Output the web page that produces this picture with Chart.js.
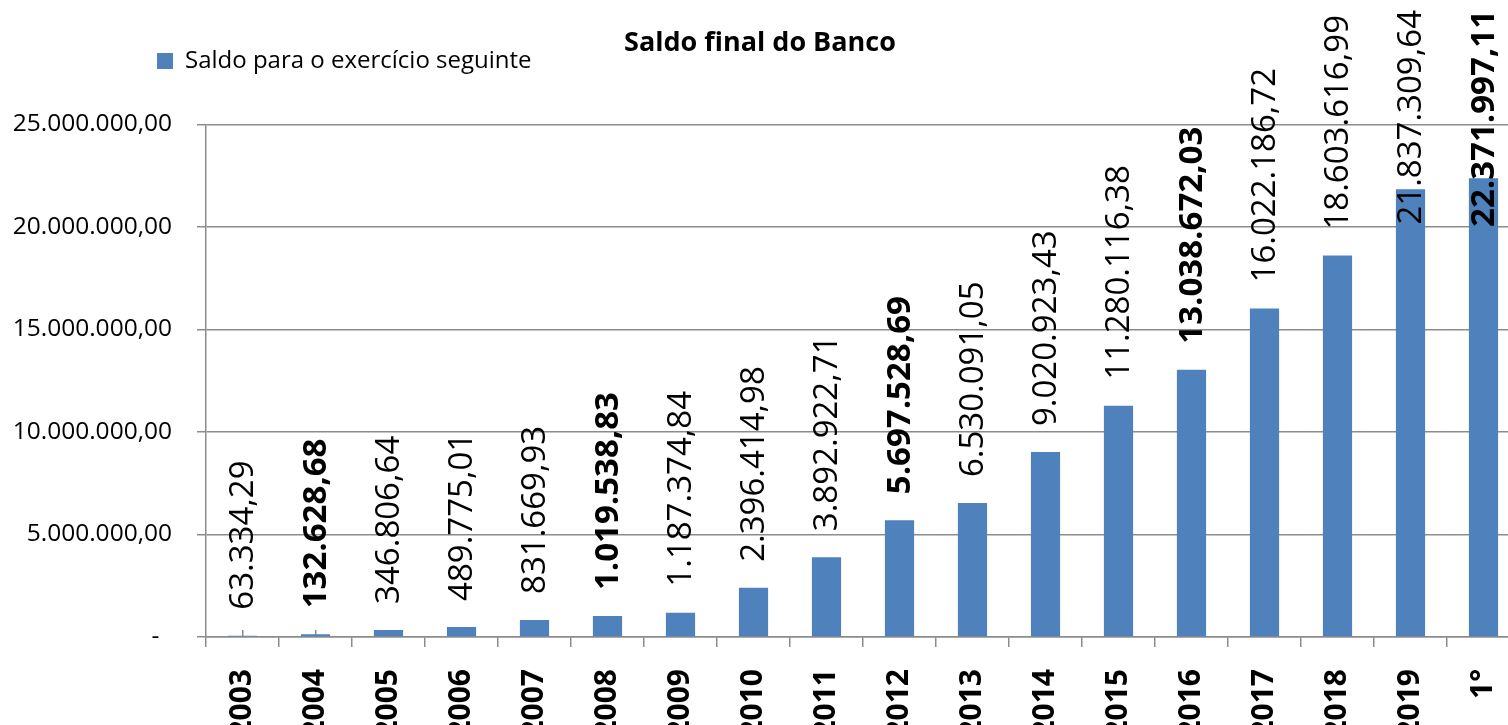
<!DOCTYPE html>
<html lang="pt">
<head>
  <meta charset="UTF-8">
  <title>Saldo final do Banco</title>
  <script src="https://cdn.jsdelivr.net/npm/chart.js"></script>
  <style>
    body {
      margin: 0;
      overflow: hidden;
      background: #fff;
    }
    canvas {
      display: block;
    }
  </style>
</head>
<body>
  <canvas id="saldoChart" width="1520" height="725"></canvas>

  <script>
    const categorias = ["2003", "2004", "2005", "2006", "2007", "2008", "2009", "2010", "2011",
      "2012", "2013", "2014", "2015", "2016", "2017", "2018", "2019", "1°"];
    const saldos = [63334.29, 132628.68, 346806.64, 489775.01, 831669.93, 1019538.83, 1187374.84,
      2396414.98, 3892922.71, 5697528.69, 6530091.05, 9020923.43, 11280116.38, 13038672.03,
      16022186.72, 18603616.99, 21837309.64, 22371997.11];
    // rótulos que aparecem em negrito
    const destaques = [1, 5, 9, 13, 17];
    const yMax = 25000000;
    const yPasso = 5000000;

    const azul = '#4F81BD';
    const cinza = '#8c8c8c';

    function fmt(v) {
      const partes = v.toFixed(2).split('.');
      return partes[0].replace(/\B(?=(\d{3})+(?!\d))/g, '.') + ',' + partes[1];
    }

    Chart.defaults.font.family = "'Open Sans', sans-serif";
    Chart.defaults.color = '#000';

    // rótulos de dados verticais acima das barras
    const rotulos = {
      id: 'rotulos',
      afterLayout(chart) {
        chart.legend.left = 147;
        chart.legend.top = 39;
      },
      afterDatasetsDraw(chart) {
        const ctx = chart.ctx;
        const meta = chart.getDatasetMeta(0);
        meta.data.forEach((bar, i) => {
          const txt = fmt(saldos[i]);
          ctx.save();
          ctx.font = (destaques.includes(i) ? 'bold ' : '') + "33px 'Open Sans'";
          ctx.fillStyle = '#000';
          const w = ctx.measureText(txt).width;
          let y = bar.y - 26;
          if (y - w < 10) y = 10 + w;
          ctx.translate(bar.x + 1, y);
          ctx.rotate(-Math.PI / 2);
          ctx.textAlign = 'left';
          ctx.textBaseline = 'middle';
          ctx.fillText(txt, 0, 0);
          ctx.restore();
        });
      }
    };

    new Chart(document.getElementById('saldoChart'), {
      type: 'bar',
      data: {
        labels: categorias,
        datasets: [{
          label: 'Saldo para o exercício seguinte',
          data: saldos,
          backgroundColor: azul,
          barPercentage: 0.4,
          categoryPercentage: 1.0,
          xAxisID: 'x'
        }]
      },
      plugins: [rotulos],
      options: {
        responsive: false,
        animation: false,
        layout: { padding: 0 },
        plugins: {
          title: {
            display: true,
            text: 'Saldo final do Banco',
            font: { size: 27, weight: 'bold' },
            color: '#000',
            padding: { top: 27, bottom: 21 }
          },
          legend: {
            position: 'top',
            align: 'start',
            labels: {
              boxWidth: 16,
              boxHeight: 16,
              padding: 10,
              font: { size: 24 },
              color: '#000'
            }
          },
          tooltip: { enabled: false }
        },
        scales: {
          x: {
            type: 'category',
            position: 'bottom',
            weight: 1,
            offset: true,
            grid: { offset: true, drawOnChartArea: false, tickLength: 10, color: cinza, lineWidth: 1.5 },
            border: { color: cinza, width: 1.5 },
            ticks: {
              font: { size: 30, weight: 'bold' },
              color: '#000',
              minRotation: 90,
              maxRotation: 90,
              padding: 22,
              autoSkip: false
            },
            afterFit(scale) {
              scale.height = 88;
              scale.paddingLeft = 0;
              scale.paddingRight = 0;
            }
          },
          xInner: {
            type: 'category',
            position: 'bottom',
            weight: 0,
            offset: true,
            z: 1,
            grid: { offset: false, drawOnChartArea: false, tickLength: -7, color: cinza, lineWidth: 1.5 },
            border: { display: false },
            ticks: { display: false },
            afterFit(scale) {
              scale.height = 0;
              scale.paddingLeft = 0;
              scale.paddingRight = 0;
            }
          },
          y: {
            min: 0,
            max: yMax,
            grid: { color: cinza, lineWidth: 1.5, tickLength: 9 },
            border: { color: cinza, width: 1.5 },
            ticks: {
              stepSize: yPasso,
              font: { size: 24.5 },
              color: '#000',
              padding: 25,
              callback: v => v === 0 ? '-  ' : fmt(v)
            },
            afterFit(scale) { scale.width = 206; }
          }
        }
      }
    });
  </script>
</body>
</html>
